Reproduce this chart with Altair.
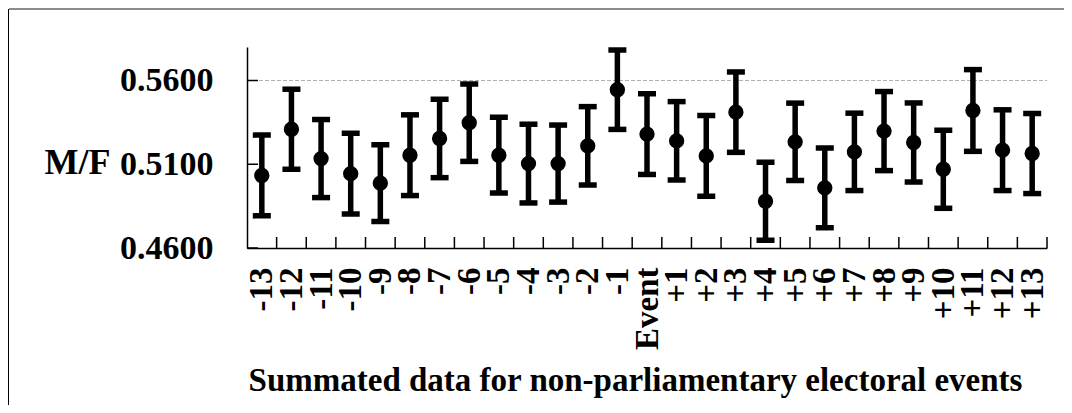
import altair as alt
import pandas as pd

labels = ["-13", "-12", "-11", "-10", "-9", "-8", "-7", "-6", "-5", "-4", "-3", "-2", "-1",
          "Event", "+1", "+2", "+3", "+4", "+5", "+6", "+7", "+8", "+9", "+10", "+11", "+12", "+13"]
values = [0.5033, 0.5309, 0.5134, 0.5044, 0.4987, 0.5154, 0.5254, 0.5348, 0.5154, 0.5104,
          0.5104, 0.5210, 0.5545, 0.5280, 0.5240, 0.5150, 0.5411, 0.4879, 0.5234, 0.4959,
          0.5174, 0.5298, 0.5230, 0.5070, 0.5421, 0.5184, 0.5164]
errors = [0.0241, 0.0239, 0.0233, 0.0241, 0.0229, 0.0241, 0.0234, 0.0231, 0.0226, 0.0235,
          0.0230, 0.0234, 0.0237, 0.0241, 0.0234, 0.0241, 0.0240, 0.0233, 0.0231, 0.0238,
          0.0231, 0.0236, 0.0236, 0.0233, 0.0244, 0.0241, 0.0239]
y_ticks = [0.46, 0.51, 0.56]
grid_values = [0.56]

FONT = "Liberation Serif"
W, H = 800, 201

idx = list(range(1, len(labels) + 1))
df = pd.DataFrame({"idx": idx, "label": labels, "v": values, "err": errors})
df["lo"] = df["v"] - df["err"]
df["hi"] = df["v"] + df["err"]

xscale = alt.Scale(domain=[0.5, len(labels) + 0.5], nice=False, zero=False)
yscale = alt.Scale(domain=[0.46, 0.58], nice=False, zero=False)

label_arr = "[" + ",".join("'%s'" % l for l in labels) + "]"

x_axis = alt.Axis(
    values=idx, labelExpr=label_arr + "[datum.value-1]", ticks=False, grid=False,
    domainColor="black", domainWidth=1.5, labelAngle=270, labelAlign="right",
    labelBaseline="middle", labelFont=FONT, labelFontWeight="bold", labelFontSize=33,
    labelColor="black", labelPadding=19, labelOverlap=False, labelFlush=False,
    labelBound=False,
    title="Summated data for non-parliamentary electoral events",
    titleFont=FONT, titleFontWeight="bold", titleFontSize=33, titleColor="black",
    titleX=388, titleY=142, titleAlign="center", titleBaseline="alphabetic",
)
y_axis = alt.Axis(
    values=y_ticks, format=".4f", ticks=False, grid=False, domainColor="black",
    domainWidth=1.5, labelFont=FONT, labelFontWeight="bold", labelFontSize=34,
    labelColor="black", labelPadding=34, labelBaseline="middle",
    title="M/F", titleAngle=0, titleAlign="right", titleBaseline="alphabetic",
    titleX=-137, titleY=126, titleFont=FONT, titleFontWeight="bold",
    titleFontSize=36, titleColor="black",
)

base = alt.Chart(df)

grid = alt.Chart(pd.DataFrame({"v": grid_values})).mark_rule(
    color="#b0b0b0", strokeWidth=1, strokeDash=[4, 2]
).encode(
    y=alt.Y("v:Q", scale=yscale, axis=y_axis),
    x=alt.value(0), x2=alt.value(W),
)

one = pd.DataFrame({"a": [0]})
border_top = alt.Chart(one).mark_rule(color="#8c8c8c", strokeWidth=2).encode(
    x=alt.value(-238), x2=alt.value(W + 17), y=alt.value(-38), y2=alt.value(-38)
)
border_left = alt.Chart(one).mark_rule(color="black", strokeWidth=1).encode(
    x=alt.value(-238.5), x2=alt.value(-238.5), y=alt.value(-38), y2=alt.value(H + 157)
)

ytick = alt.Chart(pd.DataFrame({"v": y_ticks})).mark_rule(color="black", strokeWidth=1.5).encode(
    y=alt.Y("v:Q", scale=yscale, axis=y_axis),
    x=alt.value(0), x2=alt.value(11),
)

bounds = [i + 0.5 for i in idx]
xtick = alt.Chart(pd.DataFrame({"idx": bounds})).mark_rule(color="black", strokeWidth=1.5).encode(
    x=alt.X("idx:Q", scale=xscale, axis=x_axis),
    y=alt.value(H), y2=alt.value(H - 11),
)

bars = base.mark_rule(color="black", strokeWidth=5.5).encode(
    x=alt.X("idx:Q", scale=xscale, axis=x_axis),
    y=alt.Y("lo:Q", scale=yscale, axis=y_axis),
    y2="hi:Q",
)
cap_lo = base.mark_tick(color="black", orient="horizontal", size=18, thickness=5.5, opacity=1).encode(
    x=alt.X("idx:Q", scale=xscale, axis=x_axis),
    y=alt.Y("lo:Q", scale=yscale, axis=y_axis),
)
cap_hi = base.mark_tick(color="black", orient="horizontal", size=18, thickness=5.5, opacity=1).encode(
    x=alt.X("idx:Q", scale=xscale, axis=x_axis),
    y=alt.Y("hi:Q", scale=yscale, axis=y_axis),
)
points = base.mark_circle(color="black", size=235, opacity=1).encode(
    x=alt.X("idx:Q", scale=xscale, axis=x_axis),
    y=alt.Y("v:Q", scale=yscale, axis=y_axis),
)

chart = alt.layer(
    grid, border_left, ytick, xtick, bars, cap_lo, cap_hi, points, border_top
).properties(
    width=W, height=H,
    autosize=alt.AutoSizeParams(type="none"),
    padding={"left": 239, "top": 39, "right": 17, "bottom": 157},
    background="white",
).configure_view(stroke=None)

chart.save("out.html", embed_options={"renderer": "svg", "actions": False})
